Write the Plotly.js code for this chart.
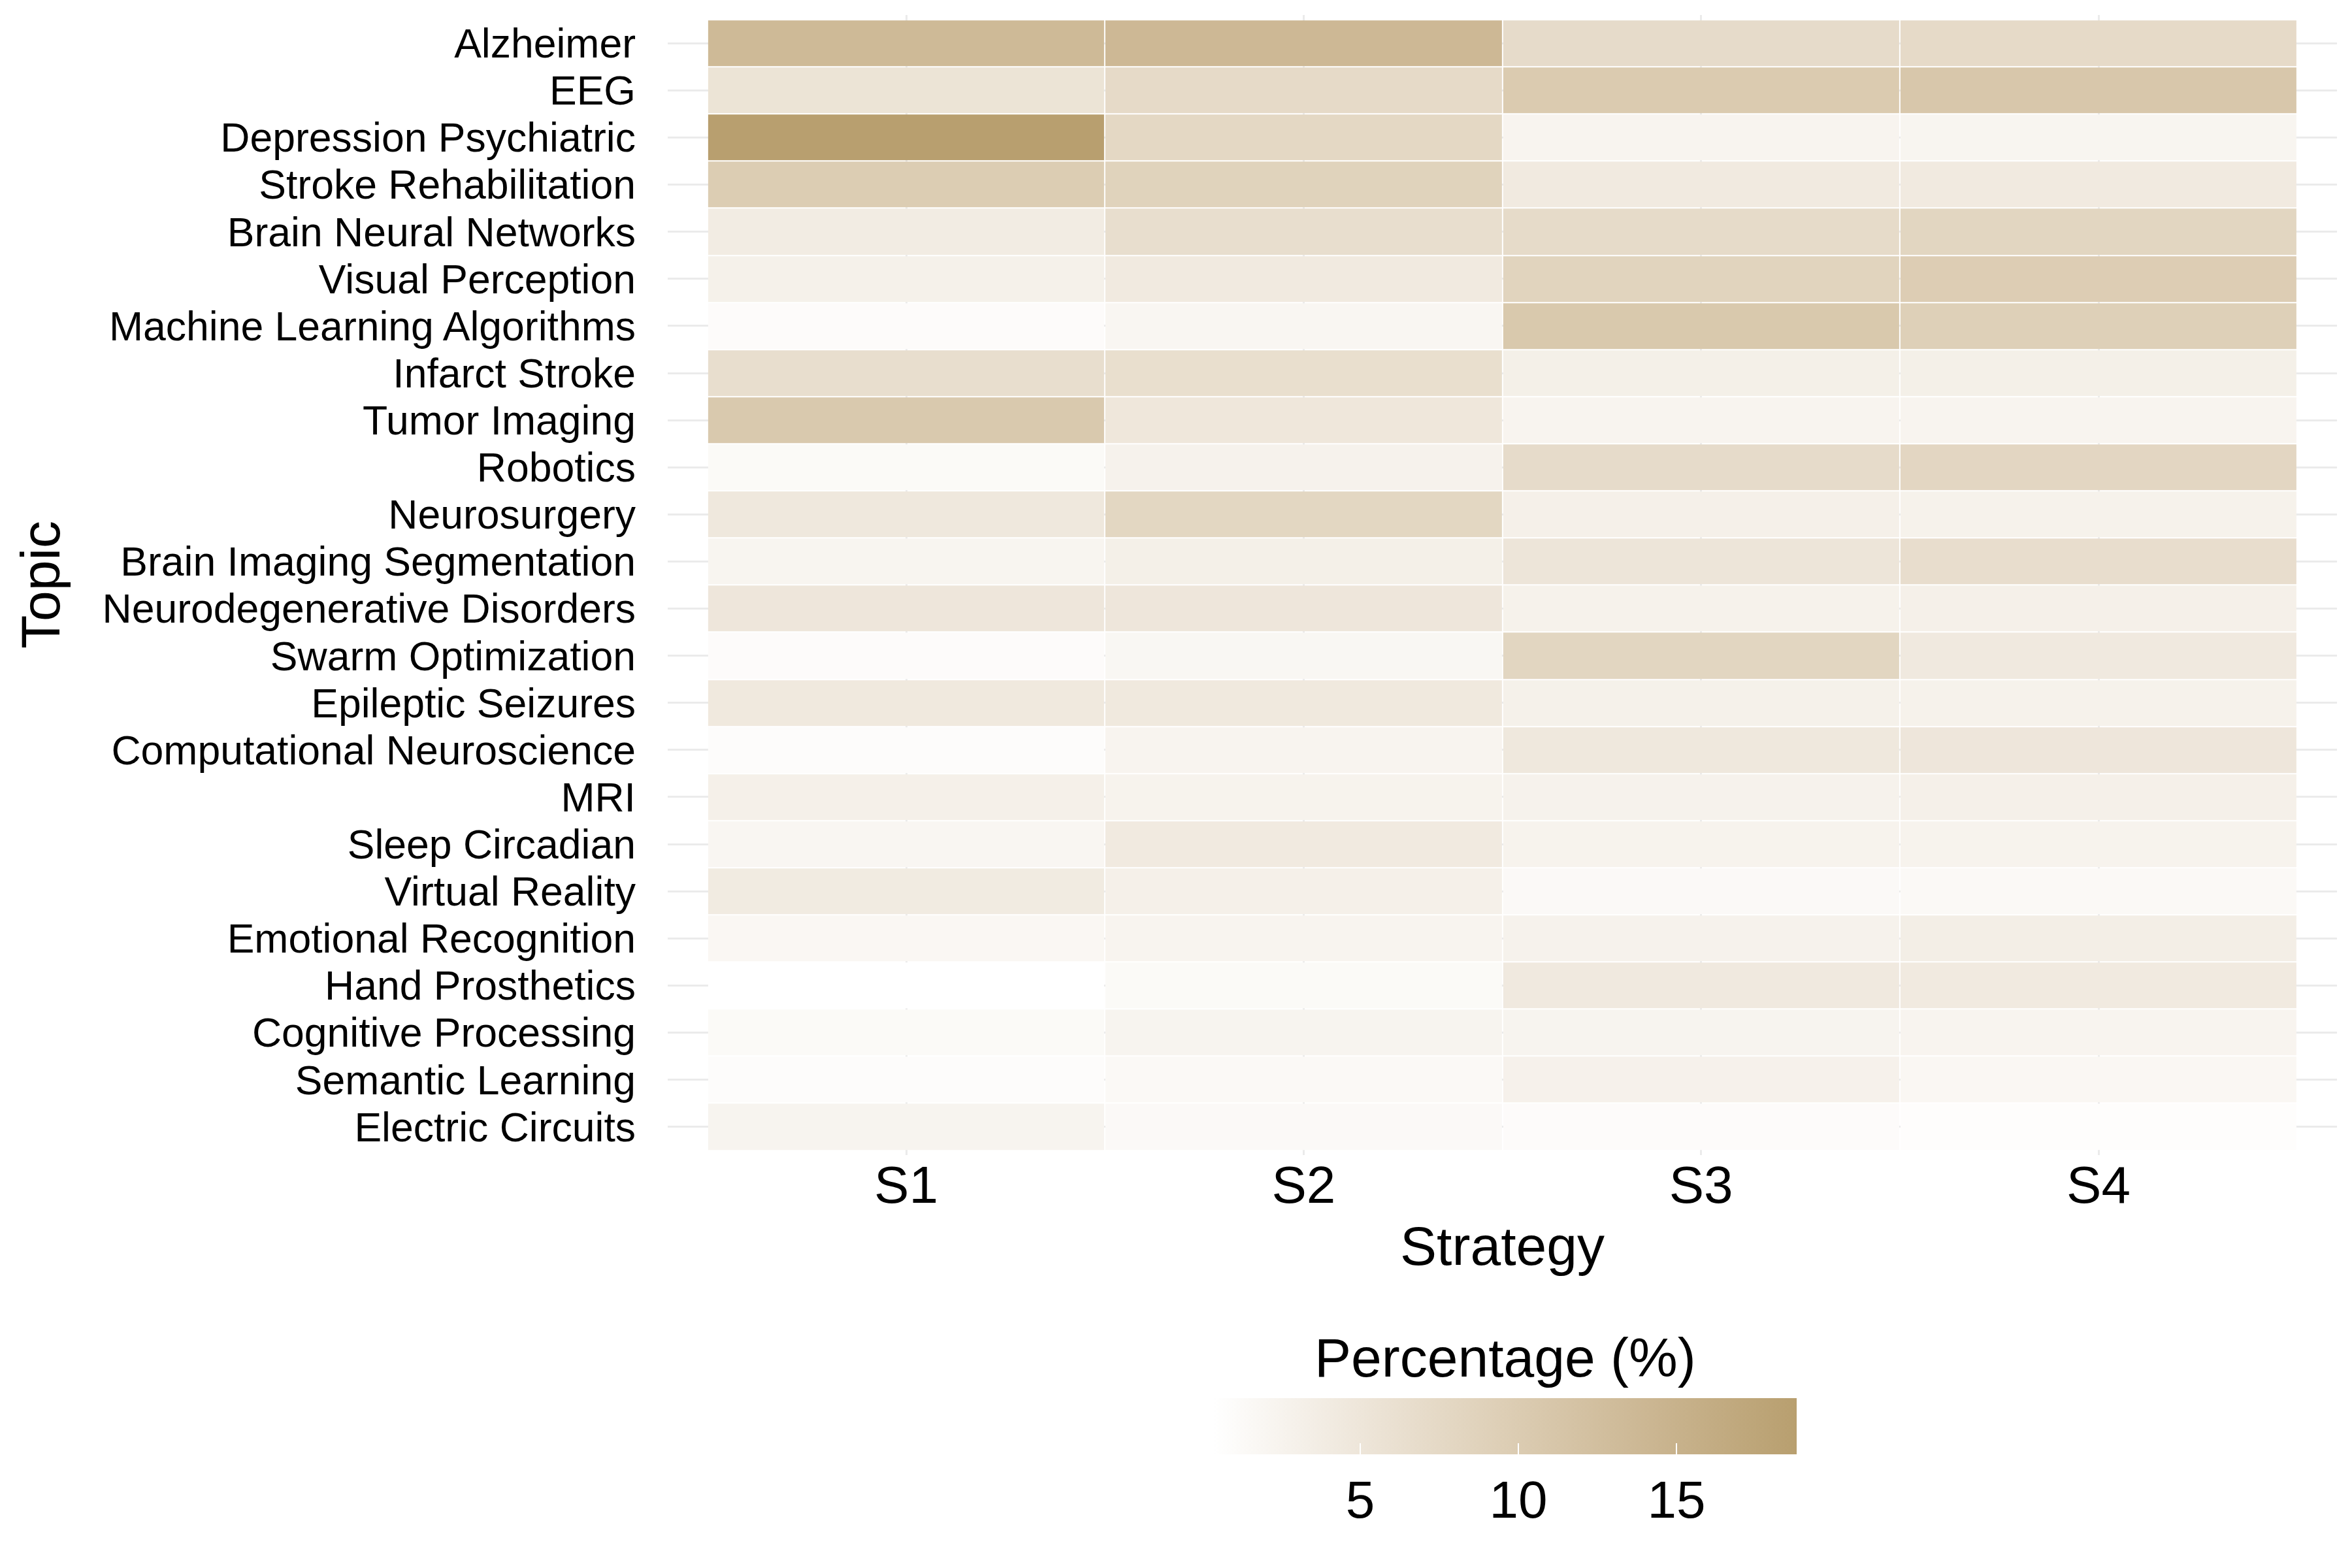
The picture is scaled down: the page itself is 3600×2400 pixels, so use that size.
<!DOCTYPE html>
<html>
<head>
<meta charset="utf-8">
<script src="https://cdn.plot.ly/plotly-3.0.1.min.js"></script>
<style>html,body{margin:0;padding:0;background:#fff;}#chart{width:3600px;height:2400px;}</style>
</head>
<body>
<div id="chart"></div>
<script>
const strategies = ["S1", "S2", "S3", "S4"];
const topics = [
  "Alzheimer", "EEG", "Depression Psychiatric", "Stroke Rehabilitation",
  "Brain Neural Networks", "Visual Perception", "Machine Learning Algorithms",
  "Infarct Stroke", "Tumor Imaging", "Robotics", "Neurosurgery",
  "Brain Imaging Segmentation", "Neurodegenerative Disorders", "Swarm Optimization",
  "Epileptic Seizures", "Computational Neuroscience", "MRI", "Sleep Circadian",
  "Virtual Reality", "Emotional Recognition", "Hand Prosthetics",
  "Cognitive Processing", "Semantic Learning", "Electric Circuits"
];
// Percentage per topic (rows) for each strategy
const s1 = [13.5, 5.4, 18.8, 9.8, 3.9, 3.0, 1.0, 6.5, 10.5, 1.3, 4.6, 2.2, 4.9, 1.0, 4.5, 0.9, 3.1, 2.0, 4.1, 1.8, 0.35, 1.3, 0.9, 2.4];
const s2 = [13.8, 7.2, 7.7, 8.7, 6.5, 4.2, 2.0, 6.4, 4.8, 2.7, 7.9, 3.2, 4.9, 1.9, 4.5, 2.3, 2.6, 4.2, 3.1, 2.3, 1.3, 2.4, 1.5, 1.4];
const s3 = [7.0, 10.2, 2.3, 4.2, 7.1, 8.5, 10.6, 3.2, 2.3, 7.0, 3.1, 5.1, 2.8, 8.1, 3.0, 4.6, 2.7, 2.6, 1.4, 2.7, 4.4, 2.4, 2.9, 1.0];
const s4 = [7.2, 10.9, 2.2, 4.2, 8.1, 9.7, 9.2, 3.2, 2.3, 8.0, 2.8, 6.6, 3.1, 4.4, 2.8, 4.9, 3.1, 2.6, 1.5, 3.5, 4.2, 2.3, 1.8, 0.7];
const colorbarTicks = [5, 10, 15];

const z = topics.map((t, i) => [s1[i], s2[i], s3[i], s4[i]]);
const all = s1.concat(s2, s3, s4);
const zmin = Math.min(...all), zmax = Math.max(...all);

const font = "Liberation Sans, Arial, sans-serif";
const W = 3600, H = 2400;
const m = {l: 1022, r: 23, t: 23, b: 632};
const pw = W - m.l - m.r, ph = H - m.t - m.b;

const trace = {
  type: "heatmap",
  x: strategies,
  y: topics,
  z: z,
  zmin: zmin,
  zmax: zmax,
  xgap: 2,
  ygap: 2,
  colorscale: [
    [0, "#FFFFFF"],
    [0.25, "rgb(238,230,218)"],
    [0.5, "rgb(221,206,181)"],
    [0.75, "rgb(203,182,146)"],
    [1, "#B89F6F"]
  ],
  colorbar: {
    orientation: "h",
    xref: "paper",
    yref: "container",
    lenmode: "pixels",
    len: 893,
    thickness: 86,
    thicknessmode: "pixels",
    x: (2303.5 - m.l) / pw,
    xanchor: "center",
    y: 1 - 2140 / H,
    yanchor: "top",
    ypad: 0,
    xpad: 0,
    outlinewidth: 0,
    tickvals: colorbarTicks,
    ticktext: colorbarTicks.map(String),
    ticks: "inside",
    ticklen: 17,
    tickwidth: 2,
    tickcolor: "#FFFFFF",
    tickfont: {family: font, size: 80, color: "#000"}
  }
};

const layout = {
  width: W, height: H,
  margin: m,
  paper_bgcolor: "#FFFFFF",
  plot_bgcolor: "#FFFFFF",
  font: {family: font, color: "#000"},
  xaxis: {
    type: "category",
    range: [-0.6, 3.6],
    tickmode: "array", tickvals: strategies, ticktext: strategies,
    showgrid: true, gridcolor: "#EBEBEB", gridwidth: 3,
    zeroline: false, showline: false, ticks: "",
    ticklabelstandoff: -8,
    tickfont: {family: font, size: 80, color: "#000"},
    automargin: false,
    title: {text: "Strategy", font: {family: font, size: 84, color: "#000"}, standoff: 20}
  },
  yaxis: {
    type: "category",
    range: [23.6, -0.6],
    tickmode: "array", tickvals: topics, ticktext: topics,
    showgrid: true, gridcolor: "#EBEBEB", gridwidth: 3,
    zeroline: false, showline: false, ticks: "",
    ticklabelstandoff: 48,
    tickfont: {family: font, size: 62.5, color: "#000"},
    automargin: false,
    title: {text: ""}
  },
  annotations: [{
    text: "Percentage (%)",
    xref: "paper", yref: "paper",
    x: (2303.5 - m.l) / pw,
    y: -(2078 - (H - m.b)) / ph,
    xanchor: "center", yanchor: "middle",
    showarrow: false,
    font: {family: font, size: 84, color: "#000"}
  }, {
    text: "Topic",
    xref: "paper", yref: "paper",
    x: (61.5 - m.l) / pw,
    y: 0.5,
    xanchor: "center", yanchor: "middle",
    textangle: -90,
    showarrow: false,
    font: {family: font, size: 84, color: "#000"}
  }]
};

Plotly.newPlot("chart", [trace], layout, {displayModeBar: false, staticPlot: true});
</script>
</body>
</html>
